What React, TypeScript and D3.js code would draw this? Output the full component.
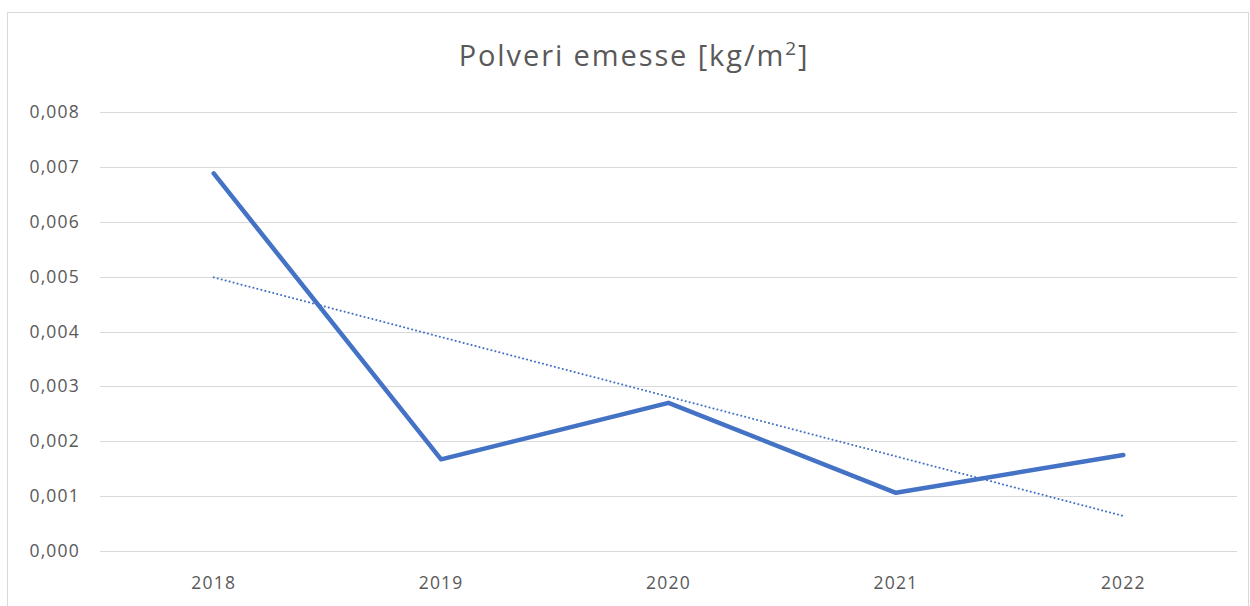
import React from "react";
import * as d3 from "d3";

const years = ["2018", "2019", "2020", "2021", "2022"];
const values = [0.00688, 0.00167, 0.0027, 0.00106, 0.00175];
const yTicks = [0, 0.001, 0.002, 0.003, 0.004, 0.005, 0.006, 0.007, 0.008];

const W = 1250, H = 606;
const plotLeft = 100, plotRight = 1237, plotTop = 112, plotBottom = 551;

export default function App() {
  const x = d3.scaleBand<string>().domain(years).range([plotLeft, plotRight]);
  const y = d3.scaleLinear().domain([0, 0.008]).range([plotBottom, plotTop]);
  const cx = (d: string) => (x(d) as number) + x.bandwidth() / 2;

  const line = d3.line<number>().x((_, i) => cx(years[i])).y((v) => y(v));

  // linear trend (least squares)
  const xs = values.map((_, i) => i);
  const mx = d3.mean(xs) as number;
  const my = d3.mean(values) as number;
  const slope = d3.sum(xs.map((xi, i) => (xi - mx) * (values[i] - my))) / d3.sum(xs.map((xi) => (xi - mx) ** 2));
  const intercept = my - slope * mx;
  const trend = xs.map((xi) => intercept + slope * xi);

  const font = "Open Sans, sans-serif";
  const grey = "#595959";

  return (
    <svg width={W} height={H} style={{ position: "absolute", left: 0, top: 0 }}>
      <rect x={0} y={0} width={W} height={H} fill="#fff" />
      <rect x={7.5} y={12.5} width={1241} height={620} fill="#fff" stroke="#d9d9d9" strokeWidth={1} />
      <text x={634} y={66} textAnchor="middle" fontFamily={font} fontSize={29} letterSpacing={1.9} fill={grey}>
        Polveri emesse [kg/m<tspan dy={-11} fontSize={19}>2</tspan><tspan dy={11}>]</tspan>
      </text>
      {yTicks.map((t) => (
        <g key={t}>
          <line x1={plotLeft} x2={plotRight} y1={Math.round(y(t)) + 0.5} y2={Math.round(y(t)) + 0.5} stroke="#d9d9d9" strokeWidth={1} />
          <text x={80} y={y(t) + 6} textAnchor="end" fontFamily={font} fontSize={17.5} letterSpacing={1.2} fill={grey}>
            {t.toFixed(3).replace(".", ",")}
          </text>
        </g>
      ))}
      {years.map((yr) => (
        <text key={yr} x={cx(yr)} y={589} textAnchor="middle" fontFamily={font} fontSize={17.5} letterSpacing={1.2} fill={grey}>
          {yr}
        </text>
      ))}
      <path d={line(trend) as string} fill="none" stroke="#4472C4" strokeWidth={2} strokeDasharray="0.1,4" strokeLinecap="round" />
      <path d={line(values) as string} fill="none" stroke="#4472C4" strokeWidth={4.5} strokeLinejoin="round" strokeLinecap="round" />
    </svg>
  );
}
